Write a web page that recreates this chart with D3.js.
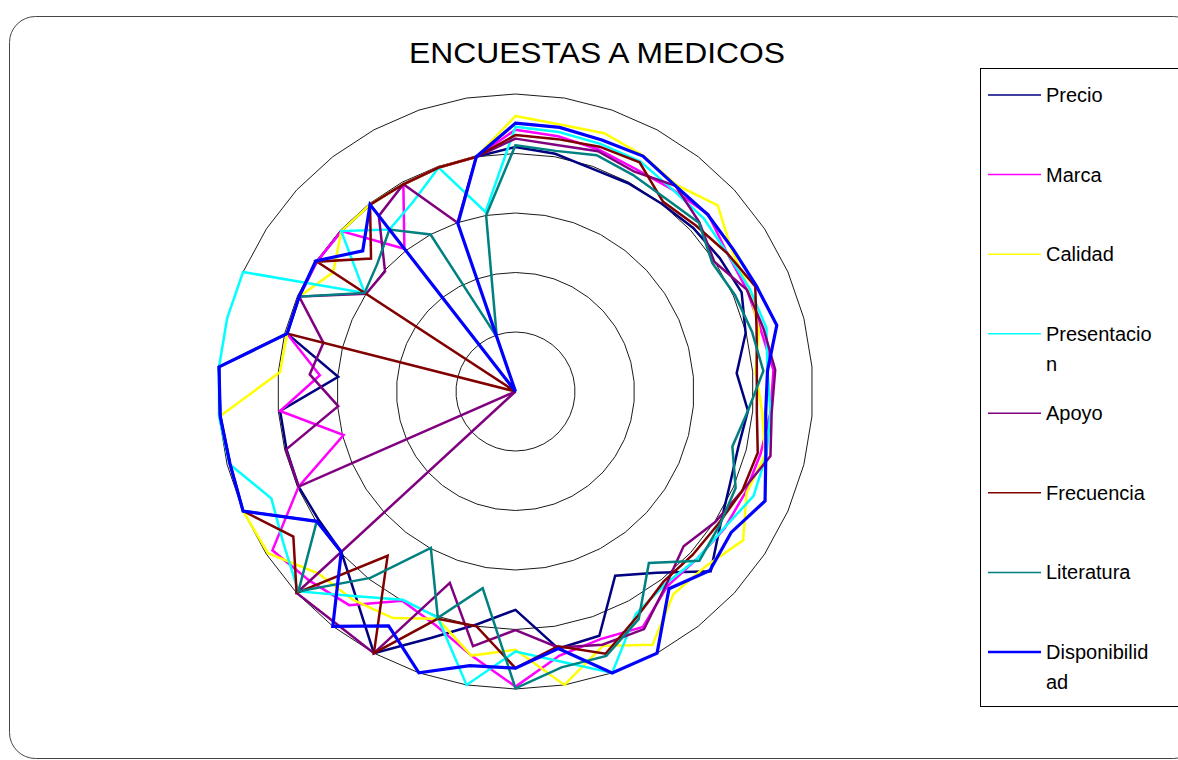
<!DOCTYPE html>
<html>
<head>
<meta charset="utf-8">
<script src="https://cdn.jsdelivr.net/npm/d3@7"></script>
<style>
  html, body { margin: 0; padding: 0; background: #fff; }
  svg { display: block; }
  text { font-family: "Liberation Sans", Arial, sans-serif; }
</style>
</head>
<body>
<svg id="chart" width="1178" height="760"></svg>
<script>
// 38 survey items, each answered on a 0–5 scale
const categories = d3.range(1, 39).map(String);
const ringTicks = [1, 2, 3, 4, 5];

const seriesNames = ["Precio", "Marca", "Calidad", "Presentacion", "Apoyo", "Frecuencia", "Literatura", "Disponibilidad"];
const seriesColors = ["#000080", "#FF00FF", "#FFFF00", "#00FFFF", "#800080", "#800000", "#008080", "#0000FF"];

const precio = [4.11, 4.05, 3.96, 3.98, 4.0, 4.06, 4.1, 4.15, 3.99, 3.73, 3.92, 3.86, 3.93, 4.11, 4.46, 3.86, 3.52, 4.34, 4.38, 3.67,
  3.97, 4.38, 5.0, 4.37, 3.98, 3.95, 3.98, 3.97, 3.97, 2.99, 3.96, 3.97, 3.99, 3.98, 3.98, 3.96, 3.98, 4.0];
const marca = [4.40, 4.35, 4.3, 4.25, 4.3, 4.4, 4.25, 4.25, 4.25, 4.35, 4.3, 4.25, 4.22, 4.2, 4.15, 4.15, 4.5, 4.4, 4.5, 4.96,
  4.5, 4.15, 4.0, 4.55, 4.7, 4.88, 3.98, 2.98, 3.97, 3.3, 3.96, 3.97, 3.99, 3.98, 3.04, 3.96, 3.98, 4.0];
const calidad = [4.63, 4.55, 4.59, 4.51, 4.4, 4.62, 4.34, 4.29, 4.22, 4.05, 4.16, 4.33, 4.24, 4.57, 4.34, 4.32, 4.84, 4.52, 5.0, 4.34,
  4.5, 4.04, 4.33, 4.44, 4.51, 4.97, 5.0, 4.95, 4.98, 3.97, 3.96, 3.97, 3.66, 3.98, 3.98, 3.96, 3.98, 4.0];
const presentacion = [4.45, 4.42, 4.4, 4.4, 4.3, 4.3, 4.25, 4.3, 4.35, 4.25, 4.3, 4.35, 4.37, 4.19, 4.15, 4.1, 4.25, 5.0, 4.6, 4.37,
  5.0, 4.02, 3.98, 4.36, 4.96, 4.66, 4.48, 4.96, 5.0, 5.0, 5.0, 5.0, 3.03, 3.98, 3.45, 3.62, 3.98, 3.06];
const apoyo = [4.25, 4.2, 4.27, 4.2, 4.38, 4.2, 3.99, 4.25, 4.3, 4.38, 4.32, 4.42, 4.16, 4.01, 3.84, 4.12, 4.54, 4.5, 4.36, 4.01,
  4.34, 3.40, 5.0, 4.93, 5.0, 0, 3.98, 3.98, 2.99, 3.47, 3.33, 3.97, 3.0, 2.98, 3.74, 3.96, 3.0, 4.0];
const frecuencia = [4.31, 4.3, 4.35, 4.38, 4.04, 4.12, 4.25, 4.4, 4.18, 4.07, 4.07, 4.2, 4.16, 4.07, 4.05, 4.05, 4.3, 4.66, 4.34, 4.65,
  4.0, 4.04, 5.0, 3.5, 5.0, 4.46, 5.0, 4.95, 4.98, 5.0, 3.96, 0, 3.99, 3.3, 3.98, 3.96, 3.98, 4.0];
const literatura = [4.14, 4.1, 4.2, 4.14, 4.11, 4.19, 3.95, 4.03, 4.1, 4.18, 3.92, 3.76, 4.04, 4.1, 4.2, 3.65, 4.35, 4.7, 4.7, 4.99,
  3.35, 4.02, 2.99, 3.97, 4.96, 3.99, 5.0, 4.95, 4.98, 5.0, 3.96, 3.97, 3.03, 3.16, 3.45, 3.0, 0.97, 3.0];
const disponibilidad = [4.51, 4.5, 4.47, 4.5, 4.38, 4.39, 4.37, 4.42, 4.53, 4.25, 4.22, 4.34, 4.58, 4.33, 4.44, 4.2, 5.0, 5.0, 4.38, 4.65,
  4.67, 5.0, 4.48, 5.0, 3.98, 3.99, 5.0, 4.95, 4.98, 5.0, 3.96, 3.97, 4.01, 3.49, 3.98, 0, 2.98, 4.0];

const seriesValues = [precio, marca, calidad, presentacion, apoyo, frecuencia, literatura, disponibilidad];

const svg = d3.select("#chart");
const cx = 515.5, cy = 391.5, outerR = 297.5;

// Outer chart frame with rounded corners
svg.append("rect")
  .attr("x", 9.5).attr("y", 16.5)
  .attr("width", 1190).attr("height", 742)
  .attr("rx", 26).attr("ry", 26)
  .attr("fill", "#fff").attr("stroke", "#444").attr("stroke-width", 1);

// Title
svg.append("text")
  .attr("x", 597).attr("y", 63)
  .attr("text-anchor", "middle")
  .attr("font-size", 29)
  .attr("fill", "#000")
  .attr("textLength", 376)
  .attr("lengthAdjust", "spacingAndGlyphs")
  .text("ENCUESTAS A MEDICOS");

const r = d3.scaleLinear().domain([0, 5]).range([0, outerR]);
const angle = d3.scaleLinear().domain([0, categories.length]).range([0, 2 * Math.PI]);

const plot = svg.append("g").attr("transform", `translate(${cx},${cy})`);

// Polygonal gridlines, one vertex per category
const ringLine = d3.lineRadial()
  .angle((d, i) => angle(i))
  .radius(d => r(d))
  .curve(d3.curveLinearClosed);

plot.selectAll("path.ring")
  .data(ringTicks)
  .join("path")
  .attr("class", "ring")
  .attr("d", t => ringLine(categories.map(() => t)))
  .attr("fill", "none")
  .attr("stroke", "#1a1a1a")
  .attr("stroke-width", 1);

// Series polygons; the last one drawn sits on top
const seriesLine = d3.lineRadial()
  .angle((d, i) => angle(i))
  .radius(d => r(d))
  .curve(d3.curveLinearClosed);

plot.selectAll("path.series")
  .data(seriesValues)
  .join("path")
  .attr("class", "series")
  .attr("d", v => seriesLine(v))
  .attr("fill", "none")
  .attr("stroke", (v, i) => seriesColors[i])
  .attr("stroke-width", (v, i) => i === seriesValues.length - 1 ? 3.2 : 2.5)
  .attr("stroke-linejoin", "miter");

// Legend
const legend = svg.append("g");
legend.append("rect")
  .attr("x", 980.5).attr("y", 68.5)
  .attr("width", 220).attr("height", 638)
  .attr("fill", "#fff").attr("stroke", "#000").attr("stroke-width", 1);

const legendLabels = [["Precio"], ["Marca"], ["Calidad"], ["Presentacio", "n"], ["Apoyo"], ["Frecuencia"], ["Literatura"], ["Disponibilid", "ad"]];
const legendY = d3.scaleLinear().domain([0, seriesNames.length - 1]).range([95, 652]);

const items = legend.selectAll("g.item")
  .data(seriesNames)
  .join("g")
  .attr("class", "item")
  .attr("transform", (d, i) => `translate(0,${legendY(i)})`);

items.append("line")
  .attr("x1", 988).attr("x2", 1041)
  .attr("y1", 0).attr("y2", 0)
  .attr("stroke", (d, i) => seriesColors[i])
  .attr("stroke-width", (d, i) => i === seriesNames.length - 1 ? 2.5 : 1.5);

items.each(function (d, i) {
  const t = d3.select(this).append("text")
    .attr("x", 1046).attr("y", 7)
    .attr("font-size", 20)
    .attr("fill", "#000");
  legendLabels[i].forEach((line, k) => {
    t.append("tspan").attr("x", 1046).attr("dy", k === 0 ? 0 : 30).text(line);
  });
});
</script>
</body>
</html>
